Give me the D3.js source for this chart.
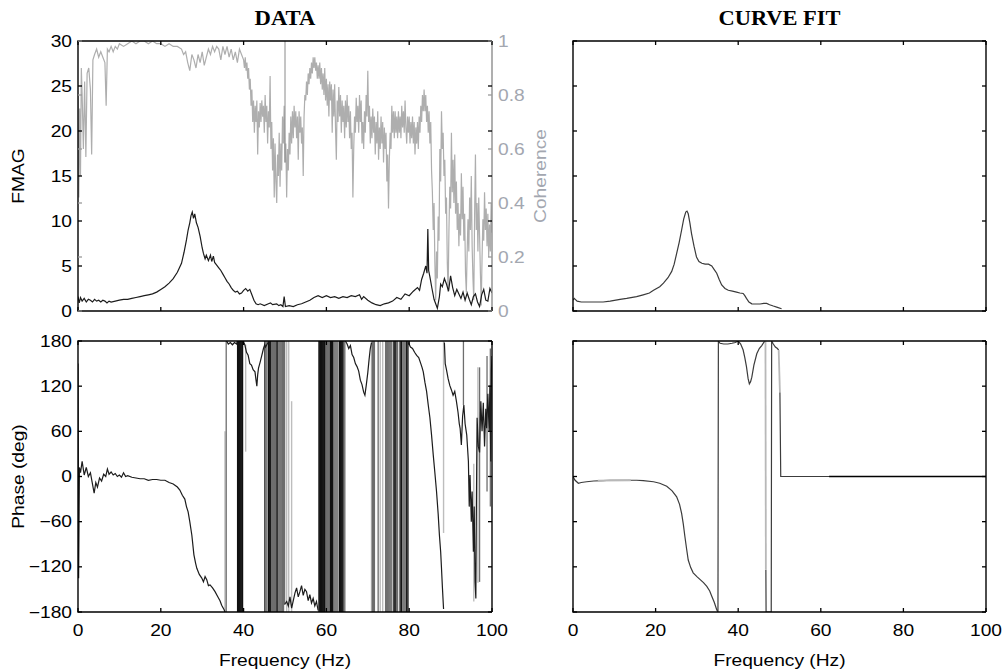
<!DOCTYPE html>
<html><head><meta charset="utf-8">
<script src="https://cdn.jsdelivr.net/npm/d3@7"></script>
<style>body{margin:0;background:#fff}svg{display:block}</style>
</head><body><svg id="c" width="1007" height="671"></svg>
<script>
// ---------- DATA ----------
const freqTicks = [0, 20, 40, 60, 80, 100];
const magTicks = [0, 5, 10, 15, 20, 25, 30];
const cohTicks = [0, 0.2, 0.4, 0.6, 0.8, 1];
const phaseTicks = [-180, -120, -60, 0, 60, 120, 180];
const titles = ["DATA", "CURVE FIT"];

// measured FMAG [Hz, value]
const measMag = [[0,1.6],[0.3,0.9],[0.6,1.5],[1,1.1],[1.5,1.4],[2,1.0],[2.5,1.3],[3,1.2],[3.5,1.0],[4,1.3],[4.5,1.1],[5,1.2],[5.5,1.0],[6,1.2],[6.5,1.1],[7,0.9],[7.5,1.1],[8,1.0],[9,1.1],[10,1.2],[11,1.3],[12,1.3],[13,1.4],[14,1.5],[15,1.6],[16,1.7],[17,1.8],[18,1.9],[19,2.1],[20,2.4],[21,2.7],[22,3.1],[23,3.6],[24,4.3],[25,5.3],[25.6,6.5],[26.2,7.9],[26.6,9.0],[27,9.8],[27.3,10.6],[27.6,11.0],[27.9,10.3],[28.2,10.8],[28.6,9.8],[29,9.3],[29.5,8.3],[30,7.0],[30.3,6.4],[30.7,5.8],[31,6.2],[31.5,5.6],[32,6.2],[32.3,5.5],[32.7,6.1],[33,5.4],[33.5,5.1],[34,4.8],[34.5,4.5],[35,4.1],[35.5,3.7],[36,3.3],[36.5,3.0],[37,2.6],[37.5,2.3],[38,2.1],[38.5,2.2],[39,1.9],[39.5,2.0],[40,2.3],[40.5,2.5],[41,2.2],[41.5,2.4],[42,1.8],[42.5,1.2],[43,0.8],[43.5,0.7],[44,0.8],[45,0.6],[46,0.8],[46.5,0.9],[47,0.7],[48,0.8],[48.5,0.6],[49,0.7],[49.5,0.5],[49.8,1.6],[50.1,0.5],[51,0.6],[52,0.5],[53,0.7],[54,0.8],[55,1.0],[56,1.2],[57,1.5],[58,1.7],[59,1.5],[60,1.7],[61,1.5],[62,1.6],[63,1.4],[64,1.6],[65,1.5],[66,1.7],[67,1.6],[68,1.8],[68.5,1.3],[69,1.6],[70,1.2],[71,0.9],[72,0.7],[73,0.6],[74,0.8],[75,0.9],[76,1.1],[77,1.5],[78,1.3],[79,1.9],[80,1.7],[81,2.2],[82,2.6],[82.5,2.3],[83,3.5],[83.5,4.2],[84,5.0],[84.3,4.2],[84.5,9.1],[84.7,4.5],[85,3.8],[85.5,2.5],[86,1.3],[86.8,0.3],[87.3,1.6],[87.6,3.0],[88,2.7],[88.5,3.6],[89,3.0],[89.5,2.2],[90,3.9],[90.5,2.6],[91,1.7],[91.5,2.4],[92,1.9],[92.5,1.4],[93,2.1],[93.5,1.2],[94,2.0],[94.5,1.3],[95,0.7],[95.5,1.6],[96,1.9],[96.5,1.0],[97,0.5],[97.5,1.8],[98,2.4],[98.5,1.2],[99,1.1],[99.5,2.5],[100,2.0]];

// coherence [Hz, value]
const coherence = [[0,0.8],[0.2,0.42],[0.4,0.75],[0.6,0.5],[0.8,0.9],[1,0.8],[1.3,0.6],[1.6,0.85],[1.9,0.57],[2.2,0.88],[2.6,0.9],[3,0.82],[3.3,0.58],[3.6,0.93],[4,0.95],[4.5,0.97],[5,0.94],[5.5,0.96],[6,0.94],[6.5,0.92],[6.8,0.76],[7.1,0.97],[7.5,0.96],[8,0.98],[8.5,0.96],[9,0.98],[9.5,0.97],[10,0.99],[11,0.98],[12,0.99],[13,1.0],[14,0.99],[15,1.0],[16,1.0],[17,0.99],[18,1.0],[19,0.99],[20,0.99],[21,0.98],[22,0.99],[23,0.98],[24,0.98],[25,0.97],[25.5,0.95],[26,0.96],[26.5,0.92],[27,0.89],[27.5,0.95],[28,0.93],[28.5,0.9],[29,0.95],[29.5,0.92],[30,0.96],[30.5,0.91],[31,0.94],[31.5,0.97],[32,0.95],[32.5,0.98],[33,0.96],[33.5,0.98],[34,0.97],[34.5,0.93],[35,0.98],[35.5,0.95],[36,0.98],[36.5,0.94],[37,0.97],[37.5,0.93],[38,0.96],[38.5,0.92],[39,0.97],[39.5,0.95],
[40.0,0.93],[40.2,0.90],[40.4,0.94],[40.6,0.89],[40.8,0.92],[41.0,0.86],[41.2,0.90],[41.4,0.82],[41.6,0.86],[41.8,0.76],[42.0,0.82],[42.2,0.70],[42.4,0.78],[42.6,0.66],[42.8,0.76],[43.0,0.70],[43.2,0.78],[43.4,0.58],[43.6,0.74],[43.8,0.68],[44.0,0.77],[44.2,0.70],[44.4,0.78],[44.6,0.72],[44.8,0.76],[45.0,0.66],[45.2,0.80],[45.4,0.70],[45.6,0.76],[45.8,0.62],[46.0,0.74],[46.2,0.68],[46.4,0.87],[46.6,0.60],[46.8,0.70],[47.0,0.52],[47.2,0.64],[47.4,0.42],[47.6,0.62],[47.8,0.48],[48.0,0.40],[48.2,0.58],[48.4,0.50],[48.6,0.66],[48.8,0.46],[49.0,0.62],[49.2,0.52],[49.4,0.72],[49.6,0.62],[49.8,0.76],[50.0,0.55],[50.2,0.62],[50.4,0.42],[50.6,0.60],[50.8,0.52],[51.0,0.66],[51.2,0.58],[51.4,0.72],[51.6,0.62],[51.8,0.74],[52.0,0.64],[52.2,0.76],[52.4,0.68],[52.6,0.74],[52.8,0.64],[53.0,0.72],[53.2,0.56],[53.4,0.74],[53.6,0.66],[53.8,0.72],[54.0,0.62],[54.2,0.68],[54.4,0.50],[54.6,0.72],[54.8,0.80],[55.0,0.78],[55.2,0.85],[55.4,0.80],[55.6,0.88],[55.8,0.84],[56.0,0.90],[56.2,0.86],[56.4,0.92],[56.6,0.88],[56.8,0.94],[57.0,0.90],[57.2,0.94],[57.4,0.89],[57.6,0.92],[57.8,0.86],[58.0,0.91],[58.2,0.86],[58.4,0.92],[58.6,0.84],[58.8,0.90],[59.0,0.82],[59.2,0.88],[59.4,0.80],[59.6,0.90],[59.8,0.78],[60.0,0.86],[60.2,0.76],[60.4,0.84],[60.6,0.72],[60.8,0.85],[61.0,0.78],[61.2,0.84],[61.4,0.66],[61.6,0.82],[61.8,0.72],[62.0,0.84],[62.2,0.68],[62.4,0.56],[62.6,0.78],[62.8,0.70],[63.0,0.83],[63.2,0.72],[63.4,0.80],[63.6,0.66],[63.8,0.78],[64.0,0.70],[64.2,0.76],[64.4,0.64],[64.6,0.78],[64.8,0.68],[65.0,0.80],[65.2,0.70],[65.4,0.76],[65.6,0.64],[65.8,0.74],[66.0,0.60],[66.2,0.66],[66.4,0.42],[66.6,0.60],[66.8,0.72],[67.0,0.66],[67.2,0.79],[67.4,0.70],[67.6,0.76],[67.8,0.66],[68.0,0.80],[68.2,0.70],[68.4,0.78],[68.6,0.62],[68.8,0.70],[69.0,0.60],[69.2,0.74],[69.4,0.66],[69.6,0.80],[69.8,0.72],[70.0,0.89],[70.2,0.70],[70.4,0.76],[70.6,0.62],[70.8,0.72],[71.0,0.64],[71.2,0.75],[71.4,0.66],[71.6,0.72],[71.8,0.58],[72.0,0.70],[72.2,0.62],[72.4,0.74],[72.6,0.56],[72.8,0.68],[73.0,0.60],[73.2,0.72],[73.4,0.62],[73.6,0.70],[73.8,0.55],[74.0,0.68],[74.2,0.60],[74.4,0.66],[74.6,0.48],[74.8,0.58],[75.0,0.38],[75.2,0.56],[75.4,0.66],[75.6,0.60],[75.8,0.76],[76.0,0.66],[76.2,0.74],[76.4,0.64],[76.6,0.74],[76.8,0.66],[77.0,0.72],[77.2,0.64],[77.4,0.74],[77.6,0.66],[77.8,0.72],[78.0,0.64],[78.2,0.76],[78.4,0.68],[78.6,0.74],[78.8,0.66],[79.0,0.78],[79.2,0.68],[79.4,0.62],[79.6,0.72],[79.8,0.66],[80.0,0.72],[80.2,0.62],[80.4,0.70],[80.6,0.64],[80.8,0.72],[81.0,0.62],[81.2,0.70],[81.4,0.58],[81.6,0.68],[81.8,0.62],[82.0,0.70],[82.2,0.60],[82.4,0.72],[82.6,0.66],[82.8,0.76],[83.0,0.70],[83.2,0.80],[83.4,0.74],[83.6,0.82],[83.8,0.74],[84.0,0.80],[84.2,0.70],[84.4,0.76],[84.6,0.66],[84.8,0.74],[85.0,0.62],[85.2,0.70],[85.4,0.52],[85.6,0.44],[85.8,0.30],[86.0,0.40],[86.2,0.18],[86.4,0.04],[86.6,0.22],[86.8,0.12],[87.0,0.35],[87.2,0.26],[87.4,0.60],[87.6,0.48],[87.8,0.74],[88.0,0.60],[88.2,0.66],[88.4,0.50],[88.6,0.56],[88.8,0.36],[89.0,0.42],[89.2,0.18],[89.4,0.07],[89.6,0.30],[89.8,0.46],[90.0,0.38],[90.2,0.66],[90.4,0.44],[90.6,0.56],[90.8,0.40],[91.0,0.58],[91.2,0.36],[91.4,0.48],[91.6,0.30],[91.8,0.40],[92.0,0.24],[92.2,0.36],[92.4,0.28],[92.6,0.51],[92.8,0.34],[93.0,0.46],[93.2,0.26],[93.4,0.36],[93.6,0.14],[93.8,0.07],[94.0,0.22],[94.2,0.34],[94.4,0.22],[94.6,0.42],[94.8,0.30],[95.0,0.50],[95.2,0.24],[95.4,0.12],[95.6,0.04],[95.8,0.36],[96.0,0.58],[96.2,0.30],[96.4,0.40],[96.6,0.22],[96.8,0.42],[97.0,0.28],[97.2,0.14],[97.4,0.02],[97.6,0.20],[97.8,0.34],[98.0,0.26],[98.2,0.44],[98.4,0.30],[98.6,0.38],[98.8,0.24],[99.0,0.36],[99.2,0.20],[99.4,0.32],[99.6,0.22],[99.8,0.40],[100.0,0.29]];

// measured phase traces (deg), polylines
const measPhase = [
 [[0,150],[0.15,-135],[0.35,12],[0.6,5],[1,20],[1.5,2],[2,12],[2.5,0],[3,5],[3.5,-10],[3.9,-22],[4.3,-8],[4.7,-14],[5.2,-2],[5.7,-6],[6.2,3],[6.7,0],[7.1,10],[7.5,3],[8,6],[8.5,2],[9,4],[9.5,0],[10,2],[10.5,-1],[11,5],[11.5,0],[12,1],[13,-1],[14,-2],[15,-3],[16,-3],[17,-5],[18,-4],[19,-4],[20,-5],[21,-5],[22,-8],[23,-10],[24,-14],[24.6,-18],[25.2,-25],[25.8,-30],[26.2,-40],[26.6,-47],[27,-60],[27.5,-78],[28,-104],[28.4,-115],[28.7,-122],[29.3,-130],[29.9,-135],[30.3,-140],[30.7,-133],[31.1,-137],[31.5,-145],[31.9,-144],[32.5,-148],[33.1,-153],[33.8,-160],[34.3,-165],[34.7,-171],[35.3,-177],[35.5,-180]],
 [[35.9,180],[36.3,176],[36.8,178],[37.3,175],[37.8,178],[38.3,176],[38.5,180]],
 [[39.8,180],[40.3,175],[40.7,165],[41.1,161],[41.5,150],[41.9,148],[42.3,142],[42.75,139],[43.0,128],[43.2,120],[43.4,135],[43.6,144],[44,152],[44.4,161],[44.8,170],[45.1,175],[45.3,172],[45.6,175],[45.9,178],[46.0,180]],
 [[49.9,-170],[50.4,-166],[50.8,-172],[51.2,-160],[51.6,-175],[52,-165],[52.4,-155],[52.8,-148],[53.2,-160],[53.6,-153],[54,-145],[54.4,-158],[54.8,-150],[55.2,-153],[55.6,-165],[56,-157],[56.4,-168],[56.8,-162],[57.2,-172],[57.6,-166],[58,-178]],
 [[64.6,180],[65,176],[65.4,170],[65.8,174],[66.2,162],[66.6,158],[67,150],[67.4,146],[67.8,140],[68.2,128],[68.6,122],[69,112],[69.3,108],[69.6,120],[70,138],[70.3,155],[70.6,170],[70.9,178]],
 [[79.8,178],[80.3,172],[80.8,170],[81.3,165],[81.8,161],[82.3,158],[82.8,150],[83.1,145],[83.4,139],[83.8,125],[84.2,113],[84.6,95],[85,78],[85.4,55],[85.8,29],[86.2,5],[86.6,-20],[87,-50],[87.3,-78],[87.6,-100],[87.8,-122],[88,-145],[88.2,-166],[88.3,-176]],
 [[88.5,178],[88.7,150],[89,142],[89.4,130],[89.8,121],[90.2,115],[90.6,108],[91,113],[91.4,100],[91.8,85],[92.1,70],[92.3,64],[92.6,42],[92.9,80],[93.2,95],[93.5,70],[93.9,55],[94.3,20],[94.5,-40],[94.7,2],[95,-60],[95.2,-20],[95.5,-100],[95.7,-40],[95.9,-140],[96.1,-162],[96.2,-60],[96.4,78],[96.7,40],[97,32],[97.3,100],[97.6,60],[97.9,98],[98.2,40],[98.5,90],[98.7,64],[99,110],[99.3,60],[99.5,121],[99.7,20],[99.85,140],[100,160]]
];
// phase wrap jumps [Hz, from deg, to deg], three shades
const wrapsDark = [[38.55,-180,180],[38.8,-180,180],[39.05,-180,180],[39.3,-180,180],[39.55,-180,180],[39.75,-180,180],[45.15,-180,180],[46.0,-180,180],[46.2,-180,180],[46.45,-180,180],[48.1,-180,180],[58.2,-180,180],[58.4,-180,180],[58.6,-180,180],[58.85,-180,180],[59.1,-180,180],[59.35,-180,180],[59.55,-180,180],[61.0,-180,180],[61.25,-180,180],[61.5,-180,180],[63.2,-180,180],[63.45,-180,180],[63.7,-180,180],[63.95,-180,180],[76.3,-180,180],[76.55,-180,180],[76.8,-180,180],[77.8,-180,180],[78.1,-180,180],[79.4,-180,180],[79.7,-180,180]];
const wrapsMid = [[35.8,-180,180],[45.6,-180,180],[46.7,-180,180],[46.95,-180,180],[47.2,-180,180],[47.45,-180,180],[47.7,-180,180],[47.9,-180,180],[48.35,-180,180],[48.6,-180,180],[48.85,-180,180],[49.1,-180,180],[49.4,-180,180],[49.65,-180,180],[49.9,-170,180],[59.8,-180,180],[60.05,-180,180],[60.3,-180,180],[60.55,-180,180],[60.8,-180,180],[61.8,-180,180],[62.05,-180,180],[62.3,-180,180],[62.55,-180,180],[62.8,-180,180],[64.2,-180,180],[64.45,-180,180],[71.1,-180,180],[71.35,-180,180],[71.6,-180,180],[72.5,-180,180],[74.3,-180,180],[74.55,-180,180],[74.8,-180,180],[75.05,-180,180],[75.3,-180,180],[75.55,-180,180],[75.8,-180,180],[77.2,-180,180],[78.45,-180,180],[78.7,-180,180],[78.95,-180,180],[79.2,-180,180],[93.1,95,180],[97.0,-140,145],[98.8,-20,160],[99.6,-40,170]];
const wrapsLight = [[35.5,-180,60],[40.5,33,175],[50.4,-180,180],[50.9,-180,180],[51.6,-180,100],[70.9,-180,180],[73.0,-180,180],[73.6,-180,180],[88.3,-75,180],[95.6,-166,17],[96.6,-141,145]];

// curve fit magnitude [Hz, value]
const fitMag = [[0,1.2],[0.3,1.4],[1,1.1],[2,1.0],[4,1.0],[6,1.0],[7.3,1.0],[9,1.1],[11.4,1.3],[13,1.4],[15.4,1.6],[17,1.8],[18.5,2.0],[19.5,2.3],[21,2.7],[21.9,3.1],[23,3.7],[23.9,4.4],[24.5,5.2],[25.1,6.4],[25.7,7.6],[26.3,9.0],[26.8,10.2],[27.3,11.0],[27.6,11.1],[27.9,10.8],[28.3,9.8],[28.7,8.6],[29.3,7.2],[29.9,6.0],[30.5,5.5],[31.2,5.3],[32,5.2],[32.8,5.2],[33.6,5.0],[34.2,4.6],[34.8,4.2],[35.4,3.5],[36,2.9],[36.8,2.5],[37.6,2.3],[38.6,2.2],[39.6,2.1],[40.4,2.0],[41.2,1.95],[41.6,1.7],[42,1.4],[42.6,1.0],[43.3,0.8],[44.2,0.78],[45.3,0.78],[46.2,0.85],[46.9,0.85],[47.6,0.7],[48.5,0.55],[49.5,0.4],[50.5,0.25]];

// curve fit phase polylines [Hz, deg]
const fitPhaseDark = [
 [[0,0],[0.5,-5],[1.3,-9],[2,-8],[3.3,-7],[5,-6],[7.3,-5.5],[9,-5],[11.4,-5],[13,-5],[15.4,-5],[17,-5.5],[19.5,-7],[21,-9],[22.7,-13],[24,-19],[25.1,-27],[25.8,-37],[26.3,-49],[26.7,-63],[27.1,-80],[27.5,-96],[27.9,-111],[28.5,-121],[29.1,-128],[30,-133],[30.8,-137],[31.6,-141],[32.4,-146],[33.1,-152],[33.6,-159],[34.2,-167],[34.8,-177],[35.1,-180],[35.2,180],[35.6,177],[36.5,176],[37.5,176],[38.5,177],[39.3,178],[40,180],[40.6,176],[41.2,168],[41.6,158],[42,146],[42.4,130],[42.7,123],[43,126],[43.3,132],[43.8,148],[44.5,163],[45.1,170],[45.7,174],[46.2,178],[46.6,180]],
 [[46.7,-124],[46.75,-180],[48.0,-180],[48.1,180],[48.5,176],[49,172],[49.5,170],[49.8,168]],
 [[50.1,112],[50.3,0],[62,0]]
];
const fitPhaseLight = [
 [[6,-5.5],[14,-5]],
 [[46.6,180],[46.7,-124]],
 [[49.8,168],[50.1,112]]
];
const fitPhaseFlat = [[62,0],[100,0]];

// ---------- DRAWING ----------
const svg = d3.select('#c');
const FONT = "'Liberation Sans', Arial, Helvetica, sans-serif";
const SX = 1.2;        // horizontal stretch of the reference lettering
const FS = 16;
const COH_COL = '#a3a7b0';

const xL = d3.scaleLinear().domain([0, 100]).range([78, 492]);
const xR = d3.scaleLinear().domain([0, 100]).range([573, 986]);
const yMagT = d3.scaleLinear().domain([0, 30]).range([311, 41]);
const yCohT = d3.scaleLinear().domain([0, 1]).range([311, 41]);
const yPhB = d3.scaleLinear().domain([-180, 180]).range([612, 341]);

const defs = svg.append('defs');
function clip(id, x, y) {
  defs.append('clipPath').attr('id', id).append('rect')
    .attr('x', x.range()[0]).attr('y', y.range()[1])
    .attr('width', x.range()[1] - x.range()[0]).attr('height', y.range()[0] - y.range()[1]);
}
clip('cTL', xL, yMagT); clip('cTR', xR, yMagT); clip('cBL', xL, yPhB); clip('cBR', xR, yPhB);

function label(g, txt, x, y, anchor, opts = {}) {
  return g.append('text')
    .attr('transform', `translate(${x},${y}) ${opts.rot ? 'rotate(-90)' : ''} scale(${opts.sx || SX},1)`)
    .attr('text-anchor', anchor)
    .attr('font-family', opts.family || FONT)
    .attr('font-size', opts.size || FS)
    .attr('font-weight', opts.weight || 'normal')
    .attr('fill', opts.fill || '#000')
    .text(txt);
}

function ticks(g, x, y, yTickVals, col, withX) {
  const [x0, x1] = x.range(); const [y1, y0] = y.range();
  if (withX) {
    freqTicks.forEach(v => {
      g.append('line').attr('x1', x(v)).attr('x2', x(v)).attr('y1', y1).attr('y2', y1 - 4).attr('stroke', '#000').attr('stroke-width', 1.3);
      g.append('line').attr('x1', x(v)).attr('x2', x(v)).attr('y1', y0).attr('y2', y0 + 4).attr('stroke', '#000').attr('stroke-width', 1.3);
    });
  }
  yTickVals.forEach(v => {
    g.append('line').attr('x1', x0).attr('x2', x0 + 4).attr('y1', y(v)).attr('y2', y(v)).attr('stroke', col).attr('stroke-width', 1.3);
    g.append('line').attr('x1', x1).attr('x2', x1 - 4).attr('y1', y(v)).attr('y2', y(v)).attr('stroke', col).attr('stroke-width', 1.3);
  });
}

function frame(g, x, y, rightCol) {
  const [x0, x1] = x.range(); const [y1, y0] = y.range();
  g.append('path').attr('d', `M${x1},${y0}H${x0}V${y1}H${x1}`).attr('fill', 'none').attr('stroke', '#000').attr('stroke-width', 1.4);
  g.append('line').attr('x1', x1).attr('x2', x1).attr('y1', y0).attr('y2', y1).attr('stroke', rightCol || '#000').attr('stroke-width', 1.4);
}

const line = (x, y) => d3.line().x(d => x(d[0])).y(d => y(d[1]));

// --- Top left: DATA magnitude + coherence
const gTL = svg.append('g');
const pTL = gTL.append('g').attr('clip-path', 'url(#cTL)');
pTL.append('path').datum(coherence).attr('d', line(xL, yCohT)).attr('fill', 'none').attr('stroke', '#aeaeae').attr('stroke-width', 1.2);
pTL.append('line').attr('x1', xL(50)).attr('x2', xL(50)).attr('y1', yCohT(0.55)).attr('y2', yCohT(1)).attr('stroke', '#8a8a8a').attr('stroke-width', 1);
pTL.append('path').datum(measMag).attr('d', line(xL, yMagT)).attr('fill', 'none').attr('stroke', '#1c1c1c').attr('stroke-width', 1.2);
frame(gTL, xL, yMagT, '#8d8d8d');
ticks(gTL, xL, yMagT, magTicks, '#000', true);
ticks(gTL, xL, yCohT, cohTicks, '#9a9a9a', false);
magTicks.forEach(v => label(gTL, String(v), 72, yMagT(v) + 5.5, 'end'));
cohTicks.forEach(v => label(gTL, String(v), 498, yCohT(v) + 5.5, 'start', { fill: COH_COL }));

// --- Top right: fit magnitude
const gTR = svg.append('g');
const pTR = gTR.append('g').attr('clip-path', 'url(#cTR)');
pTR.append('path').datum(fitMag).attr('d', line(xR, yMagT)).attr('fill', 'none').attr('stroke', '#3a3a3a').attr('stroke-width', 1.2);
frame(gTR, xR, yMagT);
ticks(gTR, xR, yMagT, magTicks, '#000', true);

// --- Bottom left: measured phase
const gBL = svg.append('g');
const pBL = gBL.append('g').attr('clip-path', 'url(#cBL)');
function wraps(g, arr, x, col, w) {
  g.selectAll(null).data(arr).enter().append('line')
    .attr('x1', d => x(d[0])).attr('x2', d => x(d[0]))
    .attr('y1', d => yPhB(d[1])).attr('y2', d => yPhB(d[2]))
    .attr('stroke', col).attr('stroke-width', w);
}
wraps(pBL, wrapsLight, xL, '#bdbdbd', 1.4);
wraps(pBL, wrapsMid, xL, '#6e6e6e', 1.3);
wraps(pBL, wrapsDark, xL, '#111', 1.3);
pBL.selectAll(null).data(measPhase).enter().append('path')
  .attr('d', line(xL, yPhB)).attr('fill', 'none').attr('stroke', '#1c1c1c').attr('stroke-width', 1.2);
frame(gBL, xL, yPhB);
ticks(gBL, xL, yPhB, phaseTicks, '#000', true);
phaseTicks.forEach(v => label(gBL, String(v).replace('-', '\u2212'), 72, yPhB(v) + 5.5, 'end'));
freqTicks.forEach(v => label(gBL, String(v), xL(v), 636, 'middle'));

// --- Bottom right: fit phase
const gBR = svg.append('g');
const pBR = gBR.append('g').attr('clip-path', 'url(#cBR)');
pBR.selectAll(null).data(fitPhaseDark).enter().append('path')
  .attr('d', line(xR, yPhB)).attr('fill', 'none').attr('stroke', '#3c3c3c').attr('stroke-width', 1.2);
pBR.selectAll(null).data(fitPhaseLight).enter().append('path')
  .attr('d', line(xR, yPhB)).attr('fill', 'none').attr('stroke', '#b8b8b8').attr('stroke-width', 1.8);
pBR.append('path').datum(fitPhaseFlat).attr('d', line(xR, yPhB)).attr('fill', 'none').attr('stroke', '#000').attr('stroke-width', 1.6);
frame(gBR, xR, yPhB);
ticks(gBR, xR, yPhB, phaseTicks, '#000', true);
freqTicks.forEach(v => label(gBR, String(v), xR(v), 636, 'middle'));

// --- Axis titles
label(svg, 'FMAG', 24, (41 + 311) / 2, 'middle', { rot: true });
label(svg, 'Phase (deg)', 24, (341 + 612) / 2, 'middle', { rot: true });
label(svg, 'Coherence', 546, (41 + 311) / 2, 'middle', { rot: true, fill: COH_COL });
label(svg, 'Frequency (Hz)', (78 + 492) / 2, 666, 'middle');
label(svg, 'Frequency (Hz)', (573 + 986) / 2, 666, 'middle');
const SERIF = "'Liberation Serif', 'Times New Roman', serif";
label(svg, titles[0], (78 + 492) / 2, 25, 'middle', { family: SERIF, weight: 'bold', size: 21, sx: 1.08 });
label(svg, titles[1], (573 + 986) / 2, 25, 'middle', { family: SERIF, weight: 'bold', size: 21, sx: 1.07 });
</script></body></html>
